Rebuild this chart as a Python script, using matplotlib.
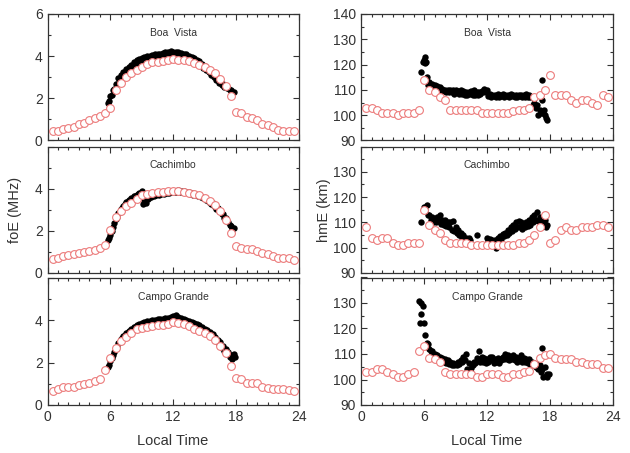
import matplotlib
matplotlib.use("Agg")
import matplotlib.pyplot as plt
from matplotlib.ticker import MultipleLocator
import numpy as np

plt.rcParams['font.family'] = ['Liberation Sans', 'DejaVu Sans']

stations = ['Boa  Vista', 'Cachimbo', 'Campo Grande']

# model (open red circles), every half hour 0.5 .. 23.5 LT
t_model = np.arange(0.5, 24.0, 0.5)

bv_foe_mod = [0.47, 0.47, 0.55, 0.58, 0.66, 0.79, 0.85, 0.98, 1.07, 1.15, 1.3, 1.55,
              2.4, 2.75, 3.0, 3.2, 3.35, 3.5, 3.63, 3.7, 3.74, 3.75, 3.8, 3.87,
              3.82, 3.8, 3.76, 3.68, 3.6, 3.5, 3.36, 3.2, 2.92, 2.6, 2.1,
              1.37, 1.3, 1.1, 1.07, 0.98, 0.8, 0.72, 0.63, 0.52, 0.47, 0.47, 0.44]
cv_foe_mod = [0.66, 0.73, 0.81, 0.84, 0.89, 0.95, 0.98, 1.03, 1.1, 1.19, 1.34,
              2.05, 2.67, 2.95, 3.19, 3.34, 3.5, 3.69, 3.77, 3.81, 3.86, 3.86, 3.89,
              3.89, 3.89, 3.86, 3.81, 3.77, 3.69, 3.58, 3.42, 3.22, 2.95, 2.52, 1.89,
              1.27, 1.19, 1.16, 1.13, 1.03, 0.95, 0.88, 0.81, 0.73, 0.69, 0.69, 0.61]
cg_foe_mod = [0.67, 0.74, 0.83, 0.83, 0.86, 0.94, 0.99, 1.05, 1.13, 1.22, 1.65,
              2.2, 2.7, 3.0, 3.2, 3.37, 3.56, 3.64, 3.69, 3.72, 3.76, 3.76, 3.81,
              3.89, 3.84, 3.8, 3.72, 3.6, 3.48, 3.37, 3.25, 3.06, 2.78, 2.43, 1.84,
              1.29, 1.22, 1.05, 1.05, 1.02, 0.83, 0.78, 0.75, 0.75, 0.75, 0.7, 0.67]

bv_hme_mod = [103, 103, 102, 101, 101, 101, 100, 101, 101, 101, 102,
              114, 110, 109, 107, 106, 102, 102, 102, 102, 102, 102, 101, 101,
              101, 101, 101, 101, 101.5, 102, 102, 103, 107, 108, 110,
              116, 108, 108, 108, 106, 105, 106, 106, 105, 104, 108, 107]
cv_hme_mod = [108, 104, 103, 104, 104, 102, 101, 101, 102, 102, 102,
              115, 109, 107, 106, 103, 102, 102, 102, 102, 101, 101, 101, 101,
              101, 101, 101, 101, 101, 102, 102, 103, 105, 108, 113,
              102, 103, 107, 108, 107, 107, 108, 108, 108, 109, 109, 108]
cg_hme_mod = [103, 103, 104, 104, 103, 102, 101, 101, 102, 103, 111,
              113, 108.5, 108, 107, 103, 102, 102, 102, 102, 102, 101, 101,
              102, 102, 102, 101, 101, 102, 102, 103, 103.5, 106, 108.5, 109.5,
              110, 108.5, 108, 108, 108, 107, 107, 106, 106, 106, 104.7, 104.7]

# observations (black dots), every 15 min 5.75 .. 17.75 LT, two samples per slot
t_obs = np.arange(5.75, 17.76, 0.25)
t_obs2 = t_obs + 0.125
nan = np.nan

bv_foe_a = [1.8, 2.1, 2.4, 2.7, 2.95, 3.1, 3.25, 3.4, 3.5, 3.6, 3.7, 3.8, 3.85,
            3.9, 3.95, 4.0, 4.02, 4.05, 4.08, 4.1, 4.12, 4.15, 4.18, 4.22, 4.24,
            4.22, 4.2, 4.18, 4.15, 4.12, 4.08, 4.02, 3.97, 3.9, 3.82, 3.75, 3.65,
            3.55, 3.45, 3.32, 3.2, 3.08, 2.95, 2.8, 2.7, 2.6, 2.5, 2.4, 2.3]
bv_foe_b = [1.85, 2.15, 2.45, 2.7, 2.9, 3.05, 3.2, 3.32, 3.42, 3.52, 3.6, 3.68,
            3.75, 3.8, 3.85, 3.9, 3.93, 3.96, 3.98, 4.0, 4.03, 4.06, 4.1, 4.12,
            4.14, 4.12, 4.1, 4.07, 4.03, 3.98, 3.93, 3.87, 3.8, 3.72, 3.65, 3.56,
            3.46, 3.36, 3.24, 3.12, 3.0, 2.88, 2.75, 2.62, 2.55, 2.48, 2.38, 2.28, nan]

cv_foe_a = [1.55, 1.8, 2.2, 2.55, 2.85, 3.05, 3.2, 3.35, 3.45, 3.55, 3.65, 3.72,
            3.8, 3.88, 3.45, 3.55, 3.62, 3.68, 3.72, 3.75, 3.78, 3.8, 3.82, 3.84,
            3.86, 3.88, 3.9, 3.92, 3.9, 3.88, 3.85, 3.82, 3.78, 3.75, 3.72, 3.68,
            3.62, 3.55, 3.48, 3.4, 3.3, 3.2, 3.08, 2.95, 2.78, 2.6, 2.42, 2.25, 2.15]
cv_foe_b = [1.65, 2.0, 2.35, 2.65, 2.9, 3.1, 3.25, 3.38, 3.48, 3.58, 3.65, 3.75,
            3.7, 3.25, 3.3, 3.5, 3.6, 3.65, 3.68, 3.72, 3.74, 3.76, 3.78, 3.8,
            3.82, 3.84, 3.86, 3.86, 3.84, 3.82, 3.78, 3.75, 3.72, 3.68, 3.64, 3.6,
            3.54, 3.46, 3.38, 3.28, 3.18, 3.05, 2.92, 2.78, 2.62, 2.45, 2.28, 2.1, nan]

cg_foe_a = [1.8, 2.05, 2.35, 2.65, 2.9, 3.1, 3.25, 3.38, 3.5, 3.6, 3.68, 3.75,
            3.82, 3.88, 3.92, 3.95, 3.97, 4.0, 4.02, 4.04, 4.05, 4.07, 4.08, 4.1,
            4.15, 4.2, 4.22, 4.15, 4.1, 4.05, 4.0, 3.97, 3.92, 3.87, 3.82, 3.75,
            3.68, 3.6, 3.52, 3.42, 3.32, 3.2, 3.08, 2.95, 2.8, 2.65, 2.5, 2.35, 2.4]
cg_foe_b = [1.9, 2.2, 2.5, 2.75, 2.95, 3.15, 3.28, 3.4, 3.5, 3.58, 3.65, 3.72,
            3.78, 3.83, 3.86, 3.88, 3.9, 3.93, 3.95, 3.97, 3.98, 4.0, 4.02, 4.05,
            4.08, 4.12, 4.08, 4.03, 3.98, 3.93, 3.88, 3.84, 3.8, 3.74, 3.68, 3.62,
            3.55, 3.46, 3.36, 3.25, 3.13, 3.0, 2.86, 2.7, 2.55, 2.4, 2.25, 2.15, 2.25]

bv_hme_a = [117, 122, 115, 113, 112.5, 112, 111.5, 111, 110.5, 110, 110, 110, 110,
            110, 109.5, 110, 109.5, 109, 109, 109.5, 110, 109, 109, 109.5, 110.5,
            110, 108.5, 108, 108, 108.5, 108, 108.5, 108, 108, 108.5, 108, 108,
            108, 108, 108, 108.5, 108, 107, 105, 104, 102, 106, 100, 98]
bv_hme_b = [121, 120.5, 112, 111.5, 111, 110.5, 110, 109.5, 109.5, 109, 109, 109,
            108.5, 109, 108.5, 108.5, 108, 108, 108.5, 108, 108, 108, 108.5, 109,
            109, 107.5, 107, 107.5, 107, 107, 107.5, 107, 107.5, 107, 107.5, 107,
            107, 107.5, 107, 107, 107, 107, 104, 103, 100, 101, 101, 99, nan]

cv_hme_a = [110, 116, 117, 113, 112, 111.5, 112, 113, 111, 111, 110, 110, 110.5,
            108, 107, 106, 105, 104, 104, nan, nan, 105, nan, nan, nan,
            104, 103.5, 103, 103, 104, 104.5, 105.5, 106, 107, 108, 109, 110,
            110.5, 110, 109, 110, 111, 112, 113, 114, 112, 111, 111, 109]
cv_hme_b = [nan, 115, 113, 111, 110, 110, 110.5, 109.5, 109, 108.5, 108, 107,
            106.5, 106, 105, 104, 103.5, 103, 103, nan, nan, nan, nan, nan, nan,
            102.5, 102, 101, 100, 102.5, 103.5, 104.5, 105, 106, 106.5, 107.5, 108,
            108, 107.5, 108, 108.5, 109, 110, 111, 110.5, 110, 109.5, 108, nan]

cg_hme_a = [130, 122, 114.5, 112, 111, 110, 109.5, 109, 108.5, 108, 107.5, 107,
            106.5, 106, 107, 107.5, 109, 110, 106.5, 104.5, 107, 108.5, 111, 109,
            108.5, 108, 109, 109, 108, 108.5, 108, 109, 110, 109.5, 109, 109.5,
            109, 108.5, 109.5, 108.5, 108, 108, 107, 106.5, 106, 105.5, 104, 105, 102]
cg_hme_b = [129, 117.3, 114, 111, 110, 109, 108.5, 108, 107, 106.5, 106, 105.5,
            105.5, 105.5, 106, 107, 107.5, 104, 103.5, 105.5, 106.5, 108, 107, 107,
            106.5, 107, 107.5, 106.5, 107, 106.5, 107.5, 108, 108, 107.5, 108, 107.5,
            107, 107.5, 107, 107, 106.5, 106, 105.5, 105, 104, 103, 101, 101.5, 102]

# a few isolated observations
bv_hme_x_t = [6.1, 6.2, 17.2, 17.45]
bv_hme_x = [123, 121, 114, 102]
cg_hme_x_t = [5.5, 5.6, 5.7, 17.2, 17.7]
cg_hme_x = [130.6, 122.1, 125.8, 112.5, 101]

foe_mod = [bv_foe_mod, cv_foe_mod, cg_foe_mod]
hme_mod = [bv_hme_mod, cv_hme_mod, cg_hme_mod]
foe_obs = [(bv_foe_a, bv_foe_b), (cv_foe_a, cv_foe_b), (cg_foe_a, cg_foe_b)]
hme_obs = [(bv_hme_a, bv_hme_b), (cv_hme_a, cv_hme_b), (cg_hme_a, cg_hme_b)]
hme_extra = [(bv_hme_x_t, bv_hme_x), ([], []), (cg_hme_x_t, cg_hme_x)]

W, H = 630, 453
rows = [(14, 140.5), (146.5, 273), (277.5, 405)]
cols = [(47.5, 299), (361, 613)]

fig = plt.figure(figsize=(W / 100, H / 100), dpi=100)
tc = '#333333'
red = '#ec7b7b'

def style(ax, ylim, major, minor, bottom_row, first_row):
    ax.set_xlim(0, 24)
    ax.set_ylim(*ylim)
    ax.xaxis.set_major_locator(MultipleLocator(6))
    ax.xaxis.set_minor_locator(MultipleLocator(1))
    ax.yaxis.set_major_locator(MultipleLocator(major))
    ax.yaxis.set_minor_locator(MultipleLocator(minor))
    ax.tick_params(which='both', direction='in', top=True, right=True,
                   colors=tc, labelsize=10, width=0.8)
    ax.tick_params(which='major', length=4.5)
    ax.tick_params(which='minor', length=2.5)
    for s in ax.spines.values():
        s.set_color(tc)
        s.set_linewidth(0.9)
    if not bottom_row:
        ax.tick_params(labelbottom=False)
    yt = np.arange(ylim[0], ylim[1] + major / 2, major)
    labels = ['%g' % v for v in yt]
    if not first_row:
        labels[-1] = ''
    ax.set_yticks(yt)
    ax.set_yticklabels(labels)

for i, (y0, y1) in enumerate(rows):
    for j, (x0, x1) in enumerate(cols):
        ax = fig.add_axes([x0 / W, 1 - y1 / H, (x1 - x0) / W, (y1 - y0) / H])
        if j == 0:
            a, b = foe_obs[i]
            mod = foe_mod[i]
            style(ax, (0, 6), 2, 1, i == 2, i == 0)
        else:
            a, b = hme_obs[i]
            mod = hme_mod[i]
            style(ax, (90, 140), 10, 5, i == 2, i == 0)
            xt, xv = hme_extra[i]
            ax.plot(xt, xv, 'o', color='black', ms=4.6, mew=0, zorder=2)
        ax.plot(t_obs, a, 'o', color='black', ms=4.6, mew=0, zorder=2)
        ax.plot(t_obs2, b, 'o', color='black', ms=4.6, mew=0, zorder=2)
        ax.plot(t_model, mod, 'o', mfc='white', mec=red, mew=0.8, ms=5.6, zorder=3)
        ax.text(0.5, 0.85, stations[i], transform=ax.transAxes, ha='center',
                va='center', fontsize=7.5, color=tc)

fig.text(15 / W, 1 - 210 / H, 'foE (MHz)', rotation=90, ha='center', va='center',
         fontsize=10.5, color=tc)
fig.text(324 / W, 1 - 210 / H, 'hmE (km)', rotation=90, ha='center', va='center',
         fontsize=10.5, color=tc)
fig.text(173 / W, 1 - 441 / H, 'Local Time', ha='center', va='center',
         fontsize=10.5, color=tc)
fig.text(487 / W, 1 - 441 / H, 'Local Time', ha='center', va='center',
         fontsize=10.5, color=tc)

fig.savefig('out.png', dpi=100, facecolor='white')
